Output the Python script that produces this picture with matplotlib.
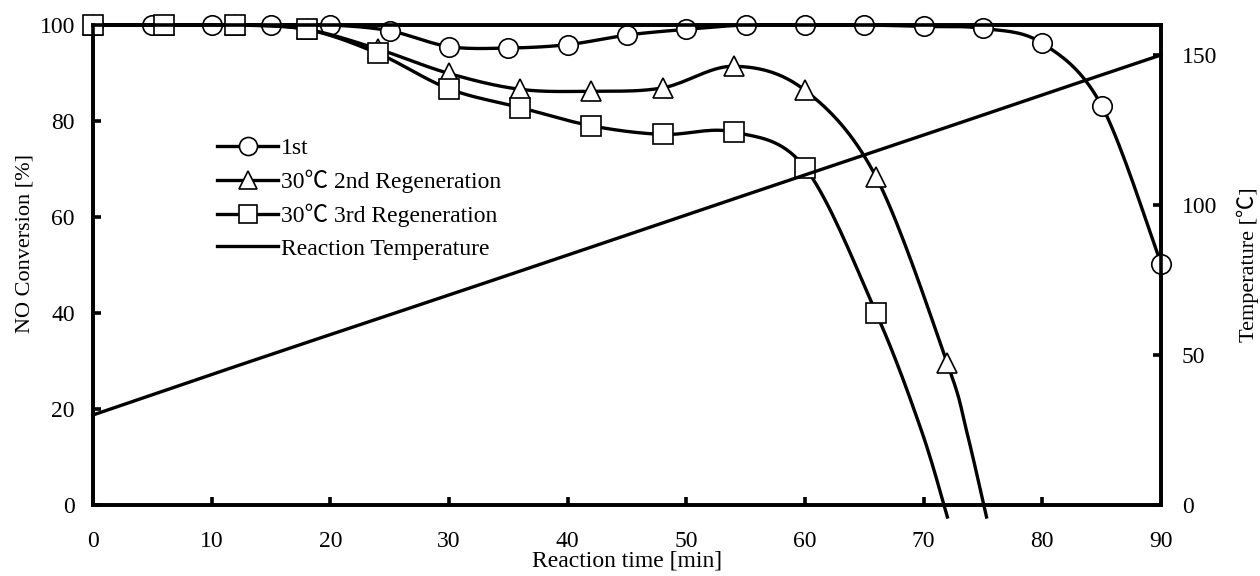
import numpy as np
import matplotlib
matplotlib.use("Agg")
import matplotlib.pyplot as plt
from matplotlib.lines import Line2D

# ---------------- data ----------------
time_1st = [0, 5, 10, 15, 20, 25, 30, 35, 40, 45, 50, 55, 60, 65, 70, 75, 80, 85, 90]
conv_1st = [100, 100, 100, 100, 100, 98.8, 95.5, 95.2, 95.9, 97.9, 99.1, 100, 100, 100, 99.7, 99.3, 96.2, 83.2, 50.3]

time_2nd = [0, 6, 12, 18, 24, 30, 36, 42, 48, 54, 60, 66, 72, 73.6, 75.3]
conv_2nd = [100, 100, 100, 99.1, 95.0, 89.9, 86.6, 86.2, 86.9, 91.4, 86.4, 68.3, 29.5, 15.6, -2.5]
n_mark_2nd = 13

time_3rd = [0, 6, 12, 18, 24, 30, 36, 42, 48, 54, 60, 66, 69.8, 72]
conv_3rd = [100, 100, 100, 99.1, 94.1, 86.7, 82.8, 79.0, 77.2, 77.7, 70.3, 40.0, 15.6, -2.5]
n_mark_3rd = 12

time_temp = [0, 10, 20, 30, 40, 50, 60, 70, 80, 90]
temp_c = [30, 43.5, 56.8, 70, 83.3, 96.7, 110, 123.3, 136.7, 150]

labels = ["1st", "30\u2103 2nd Regeneration", "30\u2103 3rd Regeneration", "Reaction Temperature"]
x_ticks = [0, 10, 20, 30, 40, 50, 60, 70, 80, 90]
y_ticks = [0, 20, 40, 60, 80, 100]
t_ticks = [0, 50, 100, 150]

# ---------------- helpers ----------------
def smooth(x, y, n=20):
    """Excel-style smoothed line (cubic Bezier with Catmull-Rom handles)."""
    p = np.column_stack([x, y]).astype(float)
    out = [p[0]]
    for i in range(len(p) - 1):
        p0 = p[i - 1] if i > 0 else p[i]
        p1 = p[i]
        p2 = p[i + 1]
        p3 = p[i + 2] if i + 2 < len(p) else p[i + 1]
        c1 = p1 + (p2 - p0) / 6.0
        c2 = p2 - (p3 - p1) / 6.0
        t = np.linspace(0, 1, n)[1:, None]
        seg = ((1 - t) ** 3) * p1 + 3 * ((1 - t) ** 2) * t * c1 + 3 * (1 - t) * t ** 2 * c2 + t ** 3 * p2
        out.extend(seg)
    out = np.array(out)
    return out[:, 0], out[:, 1]

fam = ["Liberation Serif", "Noto Sans CJK JP", "DejaVu Sans"]
plt.rcParams["font.family"] = fam
plt.rcParams["font.size"] = 17

fig = plt.figure(figsize=(12.6, 5.76), dpi=100)
ax = fig.add_axes([0.0738, 0.1233, 0.8476, 0.8333])
ax2 = ax.twinx()

lw = 2.4
ms = 14
mew = 1.2

# temperature on right axis
tx, ty = smooth(time_temp, temp_c)
ax2.plot(tx, ty, color="black", lw=lw, clip_on=False, zorder=2)

def series(xs, ys, marker, nmark, z):
    sx, sy = smooth(xs, ys)
    ax.plot(sx, sy, color="black", lw=lw, clip_on=False, zorder=z)
    ax.plot(xs[:nmark], ys[:nmark], ls="none", marker=marker, ms=ms, mfc="white",
            mec="black", mew=mew, clip_on=False, zorder=z + 0.5)

series(time_1st, conv_1st, "o", len(time_1st), 3)
series(time_2nd, conv_2nd, "^", n_mark_2nd, 4)
series(time_3rd, conv_3rd, "s", n_mark_3rd, 5)

ax.set_xlim(0, 90)
ax.set_ylim(0, 100)
ax2.set_ylim(0, 160)
ax.set_xticks(x_ticks)
ax.set_yticks(y_ticks)
ax2.set_yticks(t_ticks)

for a in (ax, ax2):
    for s in a.spines.values():
        s.set_linewidth(2.6)
    a.tick_params(direction="in", length=6, width=2.6, labelsize=17)
ax.tick_params(axis="x", pad=19)
ax.tick_params(axis="y", pad=13)
ax2.tick_params(axis="y", pad=15)

ax.set_xlabel("Reaction time [min]", fontsize=17, labelpad=-1)
ax.set_ylabel("NO Conversion [%]", fontsize=16, labelpad=6)
ax.yaxis.set_label_coords(-0.055, 0.545)
ax2.set_ylabel("Temperature [\u2103]", fontsize=16, labelpad=14)

handles = [
    Line2D([], [], color="black", lw=lw, marker="o", ms=13, mfc="white", mec="black", mew=mew),
    Line2D([], [], color="black", lw=lw, marker="^", ms=13, mfc="white", mec="black", mew=mew),
    Line2D([], [], color="black", lw=lw, marker="s", ms=13, mfc="white", mec="black", mew=mew),
    Line2D([], [], color="black", lw=lw),
]
leg = ax.legend(handles, labels, loc="upper left", bbox_to_anchor=(0.116, 0.765),
                frameon=False, handlelength=2.6, handletextpad=0.1, labelspacing=0.45,
                borderaxespad=0, borderpad=0, fontsize=17)
leg.set_zorder(10)

fig.savefig("out.png", dpi=100)
